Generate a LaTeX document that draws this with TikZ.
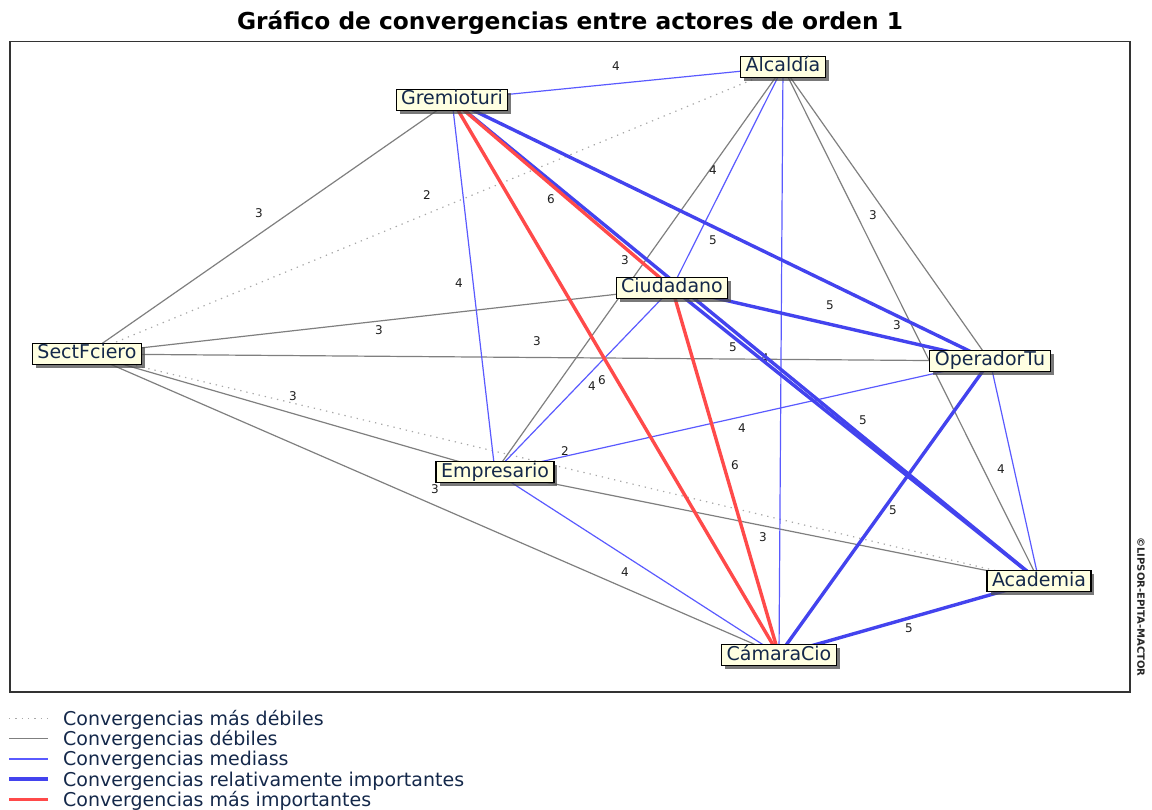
\documentclass[tikz,border=0pt]{standalone}
\usepackage{fontspec}
\setmainfont{DejaVu Sans}
\usetikzlibrary{shadows}
\pgfdeclarelayer{bg}
\pgfsetlayers{bg,main}

\definecolor{boxfill}{HTML}{FFFFE1}
\definecolor{boxtext}{HTML}{14284A}
\definecolor{weakgray}{HTML}{7F7F7F}
\definecolor{faintgray}{HTML}{A8A8A8}
\definecolor{midblue}{HTML}{5A5AFF}
\definecolor{strongblue}{HTML}{4343EE}
\definecolor{topred}{HTML}{FF4A4A}
\definecolor{labeltext}{HTML}{1E1E1E}

\tikzset{
  actor/.style={draw=black, line width=1.1pt, fill=boxfill, text=boxtext,
    inner xsep=5pt, inner ysep=1pt, text height=14.5pt, text depth=4.5pt,
    font=\fontsize{19}{22}\selectfont,
    drop shadow={shadow xshift=3.5pt, shadow yshift=-3.5pt, fill=black!70, opacity=.75}},
  lbl/.style={font=\fontsize{12}{14}\selectfont, text=labeltext, inner sep=0pt},
  weakest/.style={faintgray, line width=1.2pt, dash pattern=on 1.3pt off 5pt},
  weak/.style={weakgray, line width=1.2pt},
  medium/.style={midblue, line width=1.2pt},
  strong/.style={strongblue, line width=3.4pt},
  strongest/.style={topred, line width=3.4pt},
  legtext/.style={anchor=base west, inner sep=0pt, font=\fontsize{19}{22}\selectfont, text=boxtext}
}

\begin{document}
\begin{tikzpicture}[x=1pt, y=-1pt]
  \useasboundingbox (0,0) rectangle (1152,810);

  % title and plotting frame
  \node[anchor=base, inner sep=0pt, font=\bfseries\fontsize{23.3}{26}\selectfont] (title) at (570,30)
    {Gráfico de convergencias entre actores de orden 1};
  \draw[line width=1.8pt, black!80] (10,41.5) rectangle (1130,692);
  \node[rotate=-90, inner sep=0pt, font=\bfseries\fontsize{10}{12}\selectfont, text=black!85] (copy) at (1141,607)
    {©LIPSOR-EPITA-MACTOR};

  % actors
  \node[actor] (alc) at (783,67)  {Alcaldía};
  \node[actor] (gre) at (452,100) {Gremioturi};
  \node[actor] (ciu) at (672,288) {Ciudadano};
  \node[actor] (sf)  at (87,354)  {SectFciero};
  \node[actor] (op)  at (990,361) {OperadorTu};
  \node[actor] (emp) at (495,472) {Empresario};
  \node[actor] (aca) at (1039,581) {Academia};
  \node[actor] (cam) at (779,655) {CámaraCio};

  \begin{pgfonlayer}{bg}
    % weakest convergences
    \draw[weakest] (sf.center) -- (alc.center) node[lbl] (l01) at (427,195) {2};
    \draw[weakest] (sf.center) -- (aca.center) node[lbl] (l02) at (565,451) {2};
    % weak convergences
    \draw[weak] (sf.center)  -- (gre.center) node[lbl] (l03) at (259,213) {3};
    \draw[weak] (alc.center) -- (emp.center) node[lbl] (l04) at (625,260) {3};
    \draw[weak] (alc.center) -- (op.center)  node[lbl] (l05) at (873,215) {3};
    \draw[weak] (alc.center) -- (aca.center) node[lbl] (l06) at (897,325) {3};
    \draw[weak] (sf.center)  -- (ciu.center) node[lbl] (l07) at (379,330) {3};
    \draw[weak] (sf.center)  -- (op.center)  node[lbl] (l08) at (537,341) {3};
    \draw[weak] (sf.center)  -- (emp.center) node[lbl] (l09) at (293,396) {3};
    \draw[weak] (sf.center)  -- (cam.center) node[lbl] (l10) at (435,489) {3};
    \draw[weak] (emp.center) -- (aca.center) node[lbl] (l11) at (763,537) {3};
    % medium convergences
    \draw[medium] (gre.center) -- (alc.center) node[lbl] (l12) at (616,66)  {4};
    \draw[medium] (gre.center) -- (emp.center) node[lbl] (l13) at (459,283) {4};
    \draw[medium] (alc.center) -- (ciu.center) node[lbl] (l14) at (713,170) {4};
    \draw[medium] (alc.center) -- (cam.center) node[lbl] (l15) at (765,358) {4};
    \draw[medium] (ciu.center) -- (emp.center) node[lbl] (l16) at (592,386) {4};
    \draw[medium] (emp.center) -- (op.center)  node[lbl] (l17) at (742,428) {4};
    \draw[medium] (emp.center) -- (cam.center) node[lbl] (l18) at (625,572) {4};
    \draw[medium] (op.center)  -- (aca.center) node[lbl] (l19) at (1001,469) {4};
    % relatively important convergences
    \draw[strong] (gre.center) -- (aca.center) node[lbl] (l20) at (733,347) {5};
    \draw[strong] (gre.center) -- (op.center)  node[lbl] (l21) at (713,240) {5};
    \draw[strong] (ciu.center) -- (op.center)  node[lbl] (l22) at (830,305) {5};
    \draw[strong] (ciu.center) -- (aca.center) node[lbl] (l23) at (863,420) {5};
    \draw[strong] (op.center)  -- (cam.center) node[lbl] (l24) at (893,510) {5};
    \draw[strong] (aca.center) -- (cam.center) node[lbl] (l25) at (909,628) {5};
    % most important convergences
    \draw[strongest] (gre.center) -- (ciu.center) node[lbl] (l26) at (551,199) {6};
    \draw[strongest] (gre.center) -- (cam.center) node[lbl] (l27) at (602,380) {6};
    \draw[strongest] (ciu.center) -- (cam.center) node[lbl] (l28) at (735,465) {6};
  \end{pgfonlayer}

  % legend
  \foreach \k/\sty/\txt in {0/weakest/Convergencias más débiles,
                            1/weak/Convergencias débiles,
                            2/medium/Convergencias mediass,
                            3/strong/Convergencias relativamente importantes,
                            4/strongest/Convergencias más importantes}{
    \coordinate (ls\k) at (9,718.5+20.2*\k);
    \coordinate (le\k) at (48,718.5+20.2*\k);
    \draw[\sty] (ls\k) -- (le\k);
    \node[legtext] (lt\k) at (63,725.5+20.2*\k) {\txt};
  }
\end{tikzpicture}
\end{document}
